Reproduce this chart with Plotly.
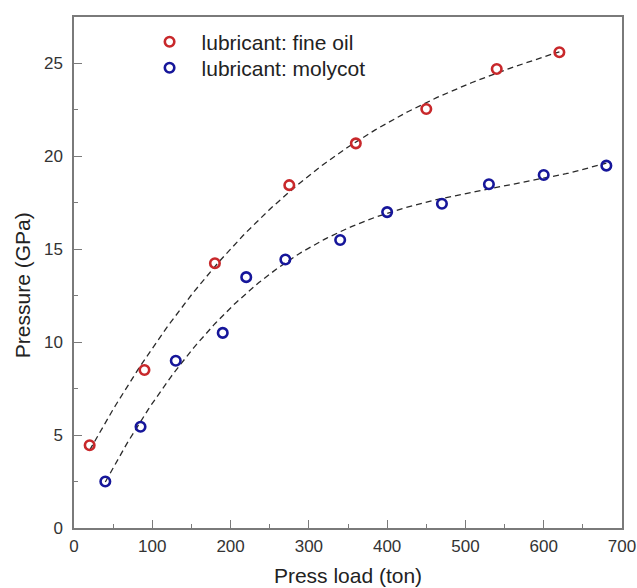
import numpy as np
import plotly.graph_objects as go

# Press load (ton) vs. generated pressure (GPa) for two lubricants
load_fine_oil = [20, 90, 180, 275, 360, 450, 540, 620]
pressure_fine_oil = [4.45, 8.5, 14.25, 18.45, 20.7, 22.55, 24.7, 25.6]

load_molycot = [40, 85, 130, 190, 220, 270, 340, 400, 470, 530, 600, 680]
pressure_molycot = [2.5, 5.45, 9.0, 10.5, 13.5, 14.45, 15.5, 17.0, 17.45, 18.5, 19.0, 19.5]

x_ticks = [0, 100, 200, 300, 400, 500, 600, 700]
y_ticks = [0, 5, 10, 15, 20, 25]

RED = "#c8282b"
BLUE = "#16169a"
FONT = "Arial, Liberation Sans, sans-serif"


def trend(x, y, deg=3):
    """Least-squares polynomial trend over the span of the measured loads."""
    coef = np.polyfit(x, y, deg)
    xs = np.linspace(min(x), max(x), 200)
    return xs, np.polyval(coef, xs)


fig = go.Figure()

for xs, ys in (trend(load_fine_oil, pressure_fine_oil), trend(load_molycot, pressure_molycot)):
    fig.add_trace(go.Scatter(
        x=xs, y=ys, mode="lines", showlegend=False, hoverinfo="skip",
        line=dict(color="#2a2a2a", width=1.3, dash="6px,4px"),
    ))

fig.add_trace(go.Scatter(
    x=load_fine_oil, y=pressure_fine_oil, mode="markers",
    name="lubricant: fine oil", legend="legend",
    marker=dict(symbol="circle-open", size=9.5, color=RED, line=dict(color=RED, width=2.6)),
))
fig.add_trace(go.Scatter(
    x=load_molycot, y=pressure_molycot, mode="markers",
    name="lubricant: molycot", legend="legend2",
    marker=dict(symbol="circle-open", size=9.5, color=BLUE, line=dict(color=BLUE, width=2.6)),
))

axis_common = dict(
    showline=True, linecolor="#7a7a7a", linewidth=1.5, mirror=True,
    showgrid=False, zeroline=False, automargin=False,
    ticks="inside", ticklen=8, tickwidth=1.2, tickcolor="#7a7a7a",
    tickfont=dict(family=FONT, size=17, color="#333333"),
)

fig.update_xaxes(
    range=[0, 700], tickvals=x_ticks, ticklabelstandoff=2,
    minor=dict(ticks="inside", ticklen=4, dtick=50, tickcolor="#7a7a7a", tickwidth=1),
    title_text="Press load (ton)", title_standoff=13,
    title_font=dict(family=FONT, size=21, color="#222222"),
    **axis_common,
)
fig.update_yaxes(
    range=[0, 27.5], tickvals=y_ticks, ticklabelstandoff=6,
    minor=dict(ticks="inside", ticklen=4, dtick=2.5, tickcolor="#7a7a7a", tickwidth=1),
    **axis_common,
)

# y-axis title sits a little below the middle of the axis
fig.add_annotation(
    text="Pressure (GPa)", textangle=-90, showarrow=False,
    xref="paper", yref="paper", x=-0.095, y=0.475,
    xanchor="center", yanchor="middle",
    font=dict(family=FONT, size=21, color="#222222"),
)

legend_common = dict(
    xanchor="left", yanchor="middle", itemwidth=54,
    font=dict(family=FONT, size=21, color="#222222"),
    bgcolor="rgba(0,0,0,0)",
)

fig.update_layout(
    width=637, height=588,
    margin=dict(l=74, r=15, t=17, b=60),
    plot_bgcolor="white", paper_bgcolor="white",
    font=dict(family=FONT),
    legend=dict(x=0.116, y=0.951, **legend_common),
    legend2=dict(x=0.116, y=0.900, **legend_common),
)

fig.write_html("out.html")
